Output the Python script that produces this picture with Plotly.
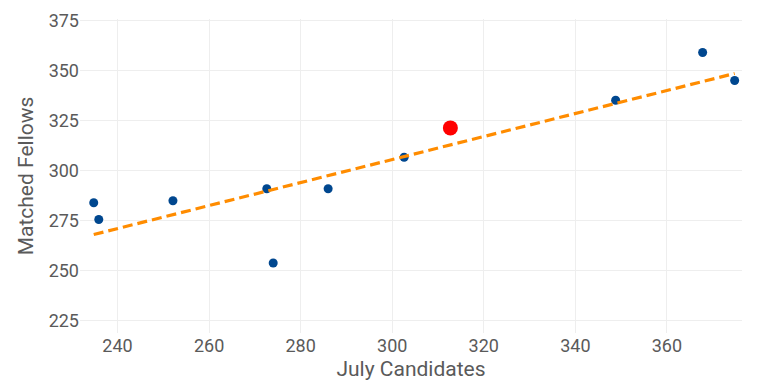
import numpy as np
import plotly.graph_objects as go

july_candidates = [234.8, 235.9, 252.1, 272.6, 274.0, 286.0, 302.6, 348.8, 367.8, 374.8]
matched_fellows = [283.9, 275.5, 284.9, 290.9, 253.75, 290.9, 306.65, 335.15, 359.0, 345.0]
highlight_x = [312.7]
highlight_y = [321.3]

slope, intercept = np.polyfit(july_candidates, matched_fellows, 1)
trend_x = [min(july_candidates), max(july_candidates)]
trend_y = [slope * v + intercept for v in trend_x]

fig = go.Figure()
fig.add_trace(go.Scatter(x=july_candidates, y=matched_fellows, mode="markers",
                         marker=dict(color="#00478F", size=9), showlegend=False))
fig.add_trace(go.Scatter(x=trend_x, y=trend_y, mode="lines",
                         line=dict(color="#FF8C00", width=3.2, dash="10px,5px"), showlegend=False))
fig.add_trace(go.Scatter(x=highlight_x, y=highlight_y, mode="markers",
                         marker=dict(color="#FF0000", size=15), showlegend=False))

fig.update_layout(
    width=757, height=389,
    margin=dict(l=72, r=23, t=11, b=64),
    paper_bgcolor="white", plot_bgcolor="white",
    font=dict(family="Roboto", color="#5a5a5a", size=18),
    xaxis=dict(title=dict(text="July Candidates", font=dict(size=21), standoff=6),
               range=[231.8, 376.4], dtick=20, tick0=240, automargin=False,
               showgrid=True, gridcolor="#EEEEEE", zeroline=False, showline=False, ticks=""),
    yaxis=dict(title=dict(text="Matched Fellows", font=dict(size=21), standoff=9),
               range=[218.75, 375.75], dtick=25, tick0=225, automargin=False,
               showgrid=True, gridcolor="#EEEEEE", zeroline=False, showline=False, ticks=""),
)
fig.write_html("out.html")
